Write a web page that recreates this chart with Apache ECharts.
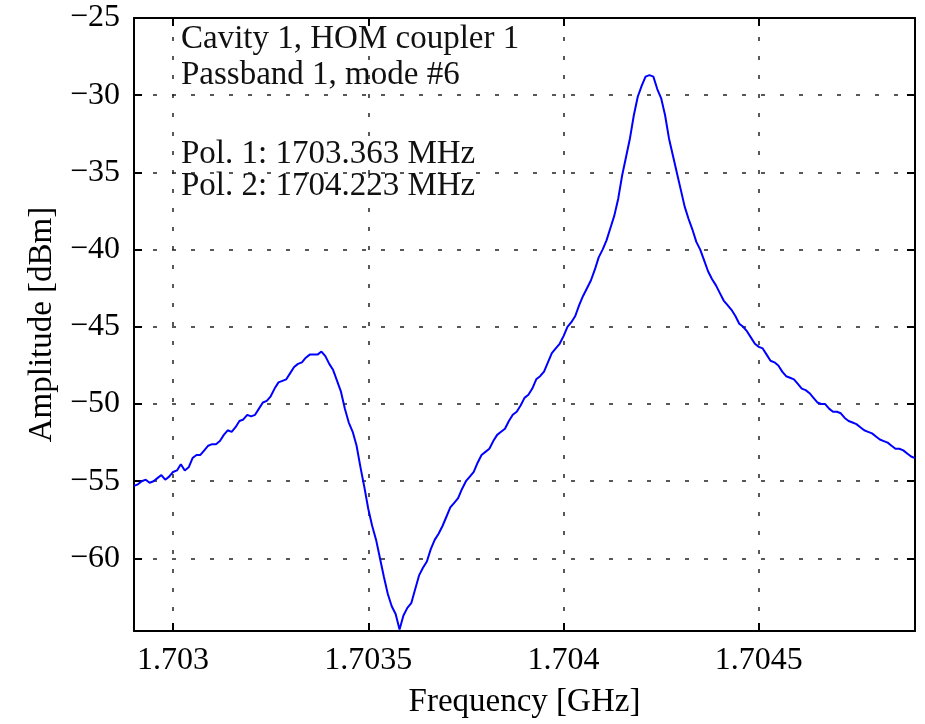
<!DOCTYPE html>
<html><head><meta charset="utf-8">
<script src="https://cdn.jsdelivr.net/npm/echarts@6/dist/echarts.min.js"></script>
<style>html,body{margin:0;padding:0;background:#fff}#c{width:925px;height:724px}</style>
</head><body><div id="c"></div>
<script>
const freqGHz = [
1.70290,1.70291,1.70292,1.70293,1.70294,1.70295,1.70296,1.70297,1.70298,1.70299,
1.70300,1.70301,1.70302,1.70303,1.70304,1.70305,1.70306,1.70307,1.70308,1.70309,
1.70310,1.70311,1.70312,1.70313,1.70314,1.70315,1.70316,1.70317,1.70318,1.70319,
1.70320,1.70321,1.70322,1.70323,1.70324,1.70325,1.70326,1.70327,1.70328,1.70329,
1.70330,1.70331,1.70332,1.70333,1.70334,1.70335,1.70336,1.70337,1.70338,1.70339,
1.70340,1.70341,1.70342,1.70343,1.70344,1.70345,1.70346,1.70347,1.70348,1.70349,
1.70350,1.70351,1.70352,1.70353,1.70354,1.70355,1.70356,1.70357,1.70358,1.70359,
1.70360,1.70361,1.70362,1.70363,1.70364,1.70365,1.70366,1.70367,1.70368,1.70369,
1.70370,1.70371,1.70372,1.70373,1.70374,1.70375,1.70376,1.70377,1.70378,1.70379,
1.70380,1.70381,1.70382,1.70383,1.70384,1.70385,1.70386,1.70387,1.70388,1.70389,
1.70390,1.70391,1.70392,1.70393,1.70394,1.70395,1.70396,1.70397,1.70398,1.70399,
1.70400,1.70401,1.70402,1.70403,1.70404,1.70405,1.70406,1.70407,1.70408,1.70409,
1.70410,1.70411,1.70412,1.70413,1.70414,1.70415,1.70416,1.70417,1.70418,1.70419,
1.70420,1.70421,1.70422,1.70423,1.70424,1.70425,1.70426,1.70427,1.70428,1.70429,
1.70430,1.70431,1.70432,1.70433,1.70434,1.70435,1.70436,1.70437,1.70438,1.70439,
1.70440,1.70441,1.70442,1.70443,1.70444,1.70445,1.70446,1.70447,1.70448,1.70449,
1.70450,1.70451,1.70452,1.70453,1.70454,1.70455,1.70456,1.70457,1.70458,1.70459,
1.70460,1.70461,1.70462,1.70463,1.70464,1.70465,1.70466,1.70467,1.70468,1.70469,
1.70470,1.70471,1.70472,1.70473,1.70474,1.70475,1.70476,1.70477,1.70478,1.70479,
1.70480,1.70481,1.70482,1.70483,1.70484,1.70485,1.70486,1.70487,1.70488,1.70489,
1.70490
];
const amplitudeDBm = [
-55.3,-55.2,-55.0,-54.9,-55.1,-55.0,-54.8,-54.6,-54.9,-54.7,
-54.4,-54.3,-53.9,-54.3,-54.1,-53.5,-53.3,-53.3,-53.0,-52.7,
-52.6,-52.6,-52.4,-52.0,-51.7,-51.8,-51.5,-51.1,-51.0,-50.7,
-50.8,-50.7,-50.3,-49.9,-49.8,-49.5,-49.0,-48.6,-48.5,-48.4,
-48.0,-47.6,-47.4,-47.3,-47.0,-46.8,-46.8,-46.8,-46.6,-46.9,
-47.4,-47.8,-48.5,-49.2,-50.3,-51.2,-51.8,-52.7,-54.1,-55.4,
-56.8,-57.9,-58.8,-60.0,-61.2,-62.3,-63.1,-63.6,-64.6,-63.7,
-63.2,-62.9,-62.0,-61.1,-60.6,-60.2,-59.4,-58.8,-58.4,-57.9,
-57.3,-56.7,-56.4,-56.1,-55.5,-55.0,-54.7,-54.4,-53.8,-53.3,
-53.1,-52.9,-52.4,-52.0,-51.8,-51.6,-51.1,-50.7,-50.5,-50.1,
-49.6,-49.4,-49.0,-48.4,-48.2,-47.9,-47.3,-46.7,-46.4,-46.1,
-45.6,-45.0,-44.7,-44.3,-43.6,-43.0,-42.5,-42.0,-41.3,-40.5,
-40.0,-39.4,-38.6,-37.8,-36.7,-35.2,-34.0,-32.8,-31.3,-30.1,
-29.4,-28.8,-28.7,-28.8,-29.6,-30.2,-31.3,-32.8,-33.9,-35.0,
-36.1,-37.2,-38.0,-38.7,-39.5,-40.0,-40.7,-41.4,-41.9,-42.3,
-42.8,-43.3,-43.6,-43.9,-44.3,-44.8,-45.0,-45.3,-45.7,-46.1,
-46.3,-46.4,-46.8,-47.2,-47.3,-47.5,-47.9,-48.2,-48.3,-48.4,
-48.7,-49.0,-49.1,-49.3,-49.6,-49.9,-50.0,-50.0,-50.3,-50.5,
-50.5,-50.6,-50.9,-51.1,-51.2,-51.3,-51.5,-51.7,-51.8,-51.9,
-52.1,-52.3,-52.4,-52.5,-52.7,-52.9,-52.9,-53.0,-53.2,-53.4,
-53.5
];
const xTicks = [1.703, 1.7035, 1.704, 1.7045];
const yTicks = [-60, -55, -50, -45, -40, -35, -30, -25];
const annotationLines = ['Cavity 1, HOM coupler 1', 'Passband 1, mode #6', 'Pol. 1: 1703.363 MHz', 'Pol. 2: 1704.223 MHz'];
const xRange = [1.7029, 1.7049];
const yRange = [-64.7, -25];

const FONT = '"Liberation Serif", "Times New Roman", serif';
const chart = echarts.init(document.getElementById('c'));
const frame = { show: true, onZero: false, lineStyle: { color: '#000', width: 2 } };
const tickIn = { show: true, inside: true, length: 8, lineStyle: { color: '#000', width: 2 } };
const grid = { show: true, lineStyle: { color: '#222', width: 1.5, type: [4, 15] } };
function xFmt(v) { const t = xTicks.find(t => Math.abs(t - v) < 1e-9); return t === undefined ? '' : String(t); }
function yFmt(v) { const t = yTicks.find(t => Math.abs(t - v) < 1e-6); return t === undefined ? '' : (t < 0 ? '\u2212' + Math.abs(t) : String(t)); }
const lblStyle = { color: '#000', fontFamily: FONT, fontSize: 32 };
const annFont = '33px ' + FONT;

chart.setOption({
  animation: false,
  backgroundColor: '#fff',
  grid: { left: 134, right: 10, top: 18, bottom: 87, containLabel: false },
  xAxis: [
    { type: 'value', min: xRange[0], max: xRange[1], splitNumber: 4, position: 'bottom',
      axisLine: frame, axisTick: tickIn, splitLine: grid,
      axisLabel: Object.assign({ margin: 14, formatter: xFmt }, lblStyle),
      name: 'Frequency [GHz]', nameLocation: 'middle', nameGap: 55,
      nameTextStyle: { color: '#000', fontFamily: FONT, fontSize: 33 } },
    { type: 'value', min: xRange[0], max: xRange[1], splitNumber: 4, position: 'top',
      axisLine: frame, axisTick: tickIn, splitLine: { show: false }, axisLabel: { show: false } }
  ],
  yAxis: [
    { type: 'value', min: yRange[0], max: yRange[1], splitNumber: 8, position: 'left',
      axisLine: frame, axisTick: tickIn, splitLine: grid,
      axisLabel: Object.assign({ margin: 14, formatter: yFmt }, lblStyle),
      name: 'Amplitude [dBm]', nameLocation: 'middle', nameGap: 74, nameRotate: 90,
      nameTextStyle: { color: '#000', fontFamily: FONT, fontSize: 33 } },
    { type: 'value', min: yRange[0], max: yRange[1], splitNumber: 8, position: 'right',
      axisLine: frame, axisTick: tickIn, splitLine: { show: false }, axisLabel: { show: false } }
  ],
  series: [{
    type: 'line', xAxisIndex: 0, yAxisIndex: 0, showSymbol: false, symbol: 'none',
    lineStyle: { color: '#0000ff', width: 2 }, z: 5,
    data: freqGHz.map((f, i) => [f, amplitudeDBm[i]])
  }],
  graphic: [
    { type: 'text', left: 181, top: 23, z: 10, style: { text: annotationLines[0], font: annFont, fill: '#111' } },
    { type: 'text', left: 181, top: 59, z: 10, style: { text: annotationLines[1], font: annFont, fill: '#111' } },
    { type: 'text', left: 181, top: 138, z: 10, style: { text: annotationLines[2], font: annFont, fill: '#111' } },
    { type: 'text', left: 181, top: 170, z: 10, style: { text: annotationLines[3], font: annFont, fill: '#111' } }
  ]
});
</script></body></html>
